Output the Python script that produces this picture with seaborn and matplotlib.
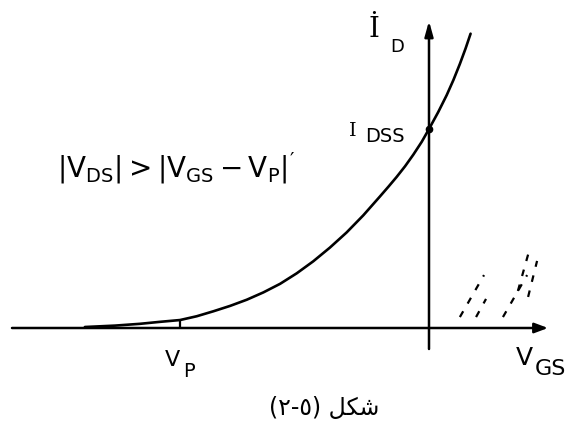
import matplotlib
matplotlib.use("Agg")
import matplotlib.pyplot as plt
import seaborn as sns
import pandas as pd

# Transfer characteristic of a JFET in saturation (V_GS normalised to |V_P|, I_D to I_DSS)
vgs = [-1.382, -1.261, -1.161, -1.080, -1.000, -0.933, -0.866, -0.799,
       -0.732, -0.665, -0.598, -0.531, -0.465, -0.398, -0.331, -0.264,
       -0.197, -0.163, -0.130, -0.096, -0.063, -0.029, 0.000, 0.037,
       0.071, 0.098, 0.124, 0.147, 0.167]
i_d = [0.005, 0.012, 0.021, 0.031, 0.040, 0.059, 0.084, 0.111,
       0.142, 0.179, 0.222, 0.275, 0.335, 0.404, 0.480, 0.566,
       0.661, 0.710, 0.759, 0.813, 0.871, 0.936, 1.000, 1.085,
       1.170, 1.246, 1.327, 1.405, 1.479]

v_p = -1.0
i_dss = 1.0

# diagonal strokes marking the region V_GS > 0
hatch_v0 = [0.124, 0.189, 0.297, 0.398, 0.357]
hatch_i0 = [0.055, 0.055, 0.055, 0.156, 0.186]
hatch_v1 = [0.221, 0.229, 0.394, 0.434, 0.402]
hatch_i1 = [0.266, 0.146, 0.266, 0.337, 0.387]

sns.set_style("white")
plt.rcParams["font.family"] = ["DejaVu Sans"]
plt.rcParams["mathtext.fontset"] = "dejavusans"
plt.rcParams["mathtext.default"] = "regular"

W, H = 581, 439
X0, Y0, SX, SY = 429, 329, 249, 199


def at(px, py):
    return (px - X0) / SX, (Y0 - py) / SY


fig = plt.figure(figsize=(W / 100, H / 100), dpi=100)
ax = fig.add_axes([0, 0, 1, 1])
ax.set_xlim(at(0, 0)[0], at(W, 0)[0])
ax.set_ylim(at(0, H)[1], at(0, 0)[1])
ax.axis("off")

ink = "black"

# axes with arrow heads
ax.annotate("", xy=at(548, Y0), xytext=at(12, Y0),
            arrowprops=dict(arrowstyle="-|>,head_length=0.8,head_width=0.3",
                            color=ink, lw=1.8, shrinkA=0, shrinkB=0))
ax.annotate("", xy=at(X0, 22), xytext=at(X0, 350),
            arrowprops=dict(arrowstyle="-|>,head_length=0.9,head_width=0.25",
                            color=ink, lw=1.8, shrinkA=0, shrinkB=0))

# characteristic curve
df = pd.DataFrame({"VGS": vgs, "ID": i_d})
sns.lineplot(data=df, x="VGS", y="ID", sort=False, color=ink, lw=1.9, ax=ax)

# pinch-off tick and I_DSS point
ax.vlines(v_p, 0, i_d[vgs.index(v_p)], color=ink, lw=1.6)
ax.plot([0], [i_dss], "o", color=ink, ms=4.5)

for a0, b0, a1, b1 in zip(hatch_v0, hatch_i0, hatch_v1, hatch_i1):
    ax.plot([a0, a1], [b0, b1], color=ink, lw=1.6, ls=(0, (3, 4)))

# labels
def put(px, py, s, size, family="DejaVu Sans", ha="center"):
    ax.text(*at(px, py), s, fontsize=size, family=family, ha=ha, va="center",
            color=ink)

put(374, 30, "\u0130", 20, "DejaVu Serif")
put(397, 47, "D", 13)
put(353, 131, "I", 14, "DejaVu Serif")
put(385, 137, "DSS", 14)

put(176, 168, r"$|V_{DS}|>|V_{GS}-V_{P}|'$", 20)

put(172, 360, "V", 16)
put(189, 372, "P", 14)
put(524, 358, "V", 18)
put(550, 369, "GS", 16)

# caption: figure (5-2), glyphs given in visual order
put(324, 408, "(\u0662-\u0665) \ufede\ufedc\ufeb7", 17)

fig.savefig("out.png", dpi=100)
